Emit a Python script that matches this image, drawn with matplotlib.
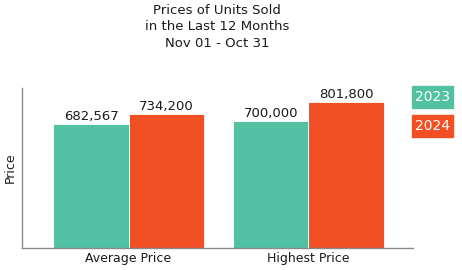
import matplotlib
matplotlib.use("Agg")
import matplotlib.pyplot as plt
import numpy as np

categories = ["Average Price", "Highest Price"]
years = ["2023", "2024"]
values_2023 = [682567, 700000]
values_2024 = [734200, 801800]
colors = {"2023": "#52C1A2", "2024": "#F24F25"}

plt.rcParams["font.family"] = ["DejaVu Sans"]
TXT = "#1a1a1a"

fig = plt.figure(figsize=(4.62, 2.70), dpi=100)
ax = fig.add_axes([0.0476, 0.0815, 0.846, 0.5926])

x = np.arange(len(categories))
w = 0.417
for off, yr, vals in [(-w / 2, "2023", values_2023), (w / 2, "2024", values_2024)]:
    bars = ax.bar(x + off, vals, width=w, color=colors[yr], edgecolor="white", linewidth=0.6)
    for b, v in zip(bars, vals):
        ax.text(b.get_x() + b.get_width() / 2, v + 5000, f"{v:,}", ha="center", va="bottom",
                fontsize=9.5, color=TXT)

ax.set_xlim(-0.592, 1.58)
ax.set_ylim(0, 879000)
ax.set_xticks(x)
ax.set_xticklabels(categories, fontsize=9, color=TXT)
ax.tick_params(axis="x", length=0, pad=3)
ax.set_yticks([])
ax.set_ylabel("Price", fontsize=9, color=TXT, labelpad=4)
for s in ["top", "right"]:
    ax.spines[s].set_visible(False)
for s in ["left", "bottom"]:
    ax.spines[s].set_color("#8a8a8a")
    ax.spines[s].set_linewidth(1)

fig.text(0.47, 0.985, "Prices of Units Sold\nin the Last 12 Months\nNov 01 - Oct 31",
         ha="center", va="top", fontsize=9.5, color=TXT, linespacing=1.33)

# legend boxes
for i, yr in enumerate(years):
    y0 = 1 - (108 + i * 29) / 270
    fig.patches.append(plt.Rectangle((412 / 462, y0), 41 / 462, 22 / 270,
                                     transform=fig.transFigure, color=colors[yr]))
    fig.text(432.5 / 462, y0 + 11 / 270, yr, ha="center", va="center",
             fontsize=10, color="white")

fig.savefig("out.png", dpi=100)
